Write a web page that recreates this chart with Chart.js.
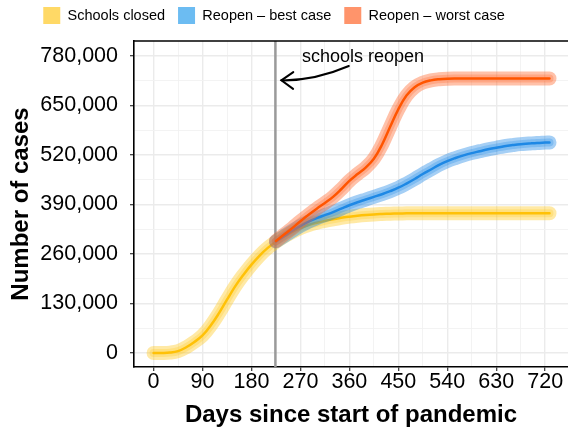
<!DOCTYPE html>
<html>
<head>
<meta charset="utf-8">
<script src="https://cdn.jsdelivr.net/npm/chart.js@4.4.0/dist/chart.umd.min.js"></script>
<style>
  html, body { margin: 0; padding: 0; background: #fff; }
</style>
</head>
<body>
<canvas id="cases" width="568" height="430"></canvas>
<script>
// data
var seriesNames = ['Schools closed', 'Reopen \u2013 best case', 'Reopen \u2013 worst case'];

var closedDays = [0, 15, 30, 45, 60, 75, 90, 105, 120, 135, 150, 165, 180, 195, 210, 225,
  240, 255, 270, 285, 300, 315, 330, 345, 360, 375, 390, 405, 420, 435, 450, 465, 480,
  495, 510, 525, 540, 555, 570, 585, 600, 615, 630, 645, 660, 675, 690, 705, 720, 728];
var closedCases = [0, 0, 1000, 5000, 15000, 29000, 46000, 72000, 104000, 140000, 175000, 205000, 232000, 256000, 276000, 292000,
  306000, 318000, 328000, 336000, 342000, 347000, 351000, 355000, 358000, 360500, 362500, 364000, 365000, 365800, 366300, 366700, 367000,
  367000, 367000, 367000, 367000, 367000, 367000, 367000, 367000, 367000, 367000, 367000, 367000, 367000, 367000, 367000, 367000, 367000];

var reopenDays = [225, 240, 255, 270, 285, 300, 315, 330, 345, 360, 375, 390, 405, 420, 435, 450, 465, 480,
  495, 510, 525, 540, 555, 570, 585, 600, 615, 630, 645, 660, 675, 690, 705, 720, 728];
var bestCases = [293000, 307000, 321000, 334000, 345000, 354000, 362000, 370000, 379000, 388000, 396000, 403000, 410000, 417000, 425000, 434000, 445000, 457000,
  470000, 482000, 494000, 504000, 512000, 519000, 525000, 530000, 535000, 539000, 543000, 546000, 548500, 550000, 551500, 552500, 553000];
var worstCases = [294000, 311000, 328000, 346000, 363000, 379000, 394000, 410000, 430000, 452000, 470000, 487000, 510000, 547000, 594000, 640000, 676000, 698000,
  710000, 716000, 719000, 720500, 721000, 721000, 721000, 721000, 721000, 721000, 721000, 721000, 721000, 721000, 721000, 721000, 721000];

var dayTicks = [0, 90, 180, 270, 360, 450, 540, 630, 720];
var caseTicks = [0, 130000, 260000, 390000, 520000, 650000, 780000];
var reopenDay = 224;

var FONT = "'Liberation Sans', Arial, Helvetica, sans-serif";
var lineColors = ['#FFC107', '#1E88E5', '#FF5500'];
var bandRgb = ['255,200,30', '30,136,229', '255,100,40'];
var keyColors = ['#FFD966', '#6CBCF2', '#FF946B'];

function pts(days, vals) {
  return days.map(function (d, i) { return { x: d, y: vals[i] }; });
}

// grid at majors + halfway minors
function withMinors(majors) {
  var out = [];
  for (var i = 0; i < majors.length; i++) {
    out.push(majors[i]);
    if (i < majors.length - 1) out.push((majors[i] + majors[i + 1]) / 2);
  }
  return out;
}

function seriesSets(idx, data) {
  var common = {
    data: data, pointRadius: 0, pointHoverRadius: 0, fill: false,
    tension: 0.4, borderCapStyle: 'round', borderJoinStyle: 'round'
  };
  return [
    Object.assign({}, common, { label: seriesNames[idx], borderColor: lineColors[idx], borderWidth: 2.5 }),
    Object.assign({}, common, { label: 'inner', borderColor: 'rgba(' + bandRgb[idx] + ',0.28)', borderWidth: 8 }),
    Object.assign({}, common, { label: 'outer', borderColor: 'rgba(' + bandRgb[idx] + ',0.4)', borderWidth: 14 })
  ];
}

var datasets = []
  .concat(seriesSets(2, pts(reopenDays, worstCases)))
  .concat(seriesSets(1, pts(reopenDays, bestCases)))
  .concat(seriesSets(0, pts(closedDays, closedCases)));

var extras = {
  id: 'extras',
  beforeLayout: function (chart) {
    var lg = chart.legend;
    if (lg && !lg._fixed) {
      var fit = lg.fit;
      lg.fit = function () { fit.call(this); this.height = 41; };
      lg._fixed = true;
    }
  },
  beforeDraw: function (chart) {
    if (chart.legend) {
      chart.legend.top = -6;
      chart.legend.left = -10;
      chart.legend.right = chart.width - 10;
    }
  },
  beforeDatasetsDraw: function (chart) {
    var ctx = chart.ctx, a = chart.chartArea, x = chart.scales.x.getPixelForValue(reopenDay);
    ctx.save();
    ctx.strokeStyle = '#9a9a9a';
    ctx.lineWidth = 2.5;
    ctx.beginPath();
    ctx.moveTo(x, a.top);
    ctx.lineTo(x, a.bottom);
    ctx.stroke();
    ctx.restore();
  },
  afterDatasetsDraw: function (chart) {
    var ctx = chart.ctx, a = chart.chartArea, xs = chart.scales.x, ys = chart.scales.y;
    ctx.save();
    // top panel edge
    ctx.strokeStyle = '#000';
    ctx.lineWidth = 1.6;
    ctx.beginPath();
    ctx.moveTo(a.left, a.top);
    ctx.lineTo(a.right, a.top);
    ctx.stroke();

    // label
    ctx.fillStyle = '#000';
    ctx.font = '18px ' + FONT;
    ctx.textAlign = 'center';
    ctx.textBaseline = 'alphabetic';
    ctx.fillText('schools reopen', xs.getPixelForValue(385), ys.getPixelForValue(764000));

    // curved arrow
    var p0x = xs.getPixelForValue(359), p0y = ys.getPixelForValue(753700);
    var cx = xs.getPixelForValue(296), cy = ys.getPixelForValue(715000);
    var p2x = xs.getPixelForValue(235), p2y = ys.getPixelForValue(716000);
    ctx.lineWidth = 2;
    ctx.lineCap = 'round';
    ctx.beginPath();
    ctx.moveTo(p0x, p0y);
    ctx.quadraticCurveTo(cx, cy, p2x, p2y);
    ctx.stroke();
    var ang = Math.atan2(p2y - cy, p2x - cx), len = 14.5, spread = 0.62;
    ctx.beginPath();
    ctx.moveTo(p2x - len * Math.cos(ang - spread), p2y - len * Math.sin(ang - spread));
    ctx.lineTo(p2x, p2y);
    ctx.lineTo(p2x - len * Math.cos(ang + spread), p2y - len * Math.sin(ang + spread));
    ctx.stroke();
    ctx.restore();
  }
};

function gridOpts(majors) {
  return {
    color: function (c) { return c.tick && majors.indexOf(c.tick.value) >= 0 ? '#EBEBEB' : '#F2F2F2'; },
    lineWidth: function (c) { return c.tick && majors.indexOf(c.tick.value) >= 0 ? 1.4 : 0.9; },
    tickColor: function (c) { return c.tick && majors.indexOf(c.tick.value) >= 0 ? '#333' : 'rgba(0,0,0,0)'; },
    tickLength: 4,
    tickWidth: 1.2,
    drawTicks: true
  };
}

new Chart(document.getElementById('cases'), {
  type: 'line',
  data: { datasets: datasets },
  plugins: [extras],
  options: {
    responsive: false,
    devicePixelRatio: 1,
    animation: false,
    layout: { padding: { top: 0, right: 0, bottom: 0, left: 0 } },
    plugins: {
      tooltip: { enabled: false },
      legend: {
        position: 'top',
        align: 'center',
        labels: {
          boxWidth: 17,
          boxHeight: 17,
          padding: 13,
          color: '#1a1a1a',
          font: { family: FONT, size: 14.5 },
          generateLabels: function () {
            return seriesNames.map(function (n, i) {
              return { text: n, fillStyle: keyColors[i], strokeStyle: keyColors[i], lineWidth: 0, hidden: false, datasetIndex: i };
            });
          }
        }
      }
    },
    scales: {
      x: {
        type: 'linear',
        min: -36,
        max: 762,
        afterBuildTicks: function (s) { s.ticks = withMinors(dayTicks).map(function (v) { return { value: v }; }); },
        afterFit: function (s) { s.height = 63; },
        grid: gridOpts(dayTicks),
        border: { display: true, color: '#000', width: 1.6 },
        ticks: {
          autoSkip: false,
          maxRotation: 0,
          padding: 0,
          color: '#000',
          font: { family: FONT, size: 21.5, lineHeight: 1 },
          callback: function (v) { return dayTicks.indexOf(v) >= 0 ? String(v) : ''; }
        },
        title: {
          display: true,
          text: 'Days since start of pandemic',
          color: '#000',
          padding: 3,
          font: { family: FONT, size: 24, weight: 'bold', lineHeight: 1 }
        }
      },
      y: {
        type: 'linear',
        min: -36800,
        max: 819400,
        afterBuildTicks: function (s) { s.ticks = withMinors(caseTicks).map(function (v) { return { value: v }; }); },
        afterFit: function (s) { s.width = 134; },
        grid: gridOpts(caseTicks),
        border: { display: true, color: '#000', width: 1.6 },
        ticks: {
          autoSkip: false,
          padding: 12,
          color: '#000',
          font: { family: FONT, size: 21.5, lineHeight: 1 },
          callback: function (v) { return caseTicks.indexOf(v) >= 0 ? v.toLocaleString('en-US') : ''; }
        },
        title: {
          display: true,
          text: 'Number of cases',
          color: '#000',
          padding: 9,
          font: { family: FONT, size: 24, weight: 'bold', lineHeight: 1 }
        }
      }
    }
  }
});
</script>
</body>
</html>
